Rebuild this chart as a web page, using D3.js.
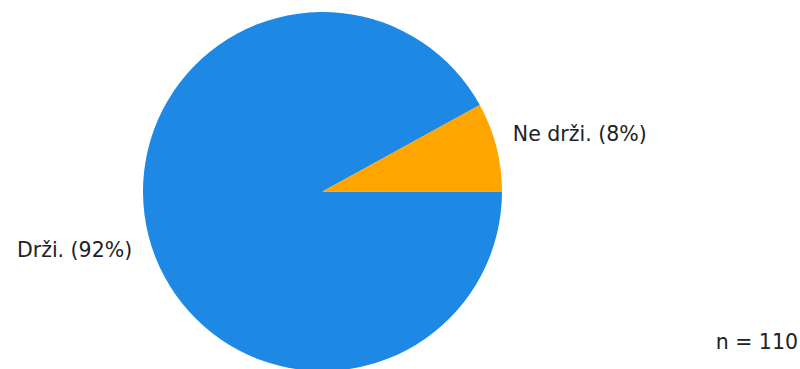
<!DOCTYPE html>
<meta charset="utf-8">
<style>
  body { margin: 0; background: #fff; }
  text {
    font: 20.5px "DejaVu Sans", sans-serif;
    fill: #222;
  }
</style>
<svg width="800" height="369"></svg>
<script src="https://d3js.org/d3.v7.min.js"></script>
<script>

var labels = ["Drži.", "Ne drži."];
var values = [92, 8];
var colorkey = ["#1E88E5", "#FFA500"];
var total = 110;

var svg = d3.select("svg"),
    cx = 322.5,
    cy = 191.5,
    radius = 179.5,
    labelGap = 17;

var data = labels.map(function(l, i) { return {label: l, value: values[i]}; });

var pie = d3.pie()
    .sort(null)
    .value(function(d) { return d.value; })
    .startAngle(Math.PI / 2)
    .endAngle(Math.PI / 2 + 2 * Math.PI);

var arc = d3.arc().innerRadius(0).outerRadius(radius);

var color = d3.scaleOrdinal().domain(labels).range(colorkey);

var g = svg.append("g")
    .attr("transform", "translate(" + cx + "," + cy + ")");

var arcs = pie(data);

g.selectAll("path")
  .data(arcs)
  .enter().append("path")
    .attr("d", arc)
    .attr("fill", function(d) { return color(d.data.label); });

function mid(d) { return (d.startAngle + d.endAngle) / 2; }

// labels: above the point for the upper half, hanging below it for the lower half
g.selectAll("text.lbl")
  .data(arcs)
  .enter().append("text")
    .attr("class", "lbl")
    .attr("x", function(d) { return (radius + labelGap) * Math.sin(mid(d)); })
    .attr("y", function(d) { return -(radius + labelGap) * Math.cos(mid(d)); })
    .attr("dy", function(d) { return Math.cos(mid(d)) > 0 ? "-0.08em" : "0.81em"; })
    .attr("text-anchor", function(d) { return Math.sin(mid(d)) >= 0 ? "start" : "end"; })
    .text(function(d) { return d.data.label + " (" + d.data.value + "%)"; });

svg.append("text")
    .attr("x", 798)
    .attr("y", 349)
    .attr("text-anchor", "end")
    .text("n = " + total);

</script>
